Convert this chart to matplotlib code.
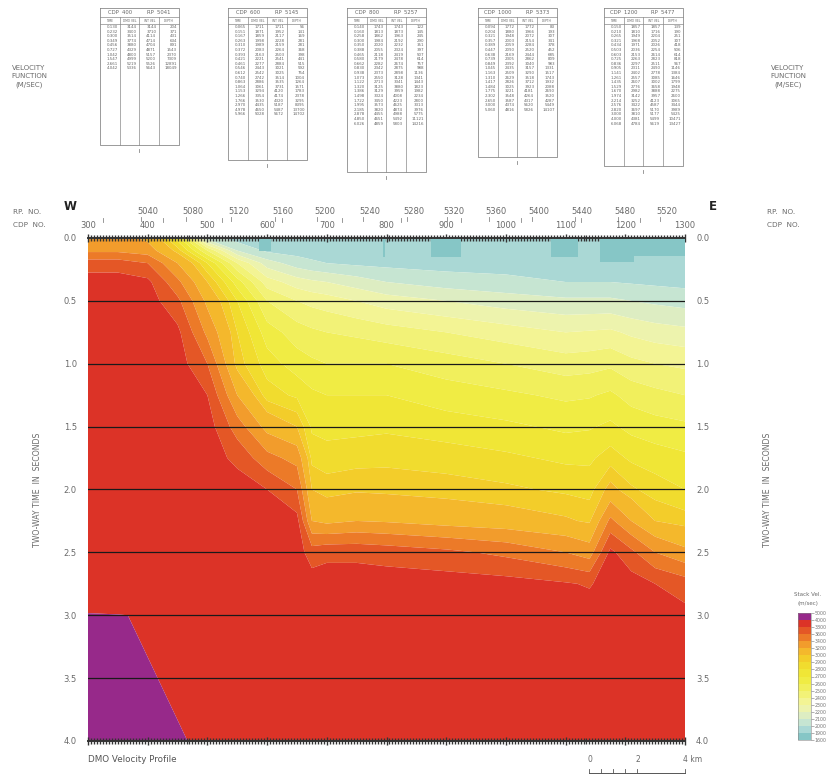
import numpy as np
import matplotlib
matplotlib.use("Agg")
import matplotlib.pyplot as plt
from matplotlib.colors import ListedColormap, BoundaryNorm
from matplotlib.cm import ScalarMappable
from matplotlib.transforms import blended_transform_factory

# ---------------- data ----------------
cdp = [300, 350, 400, 450, 500, 550, 600, 650, 675, 700, 750, 800, 900, 1000, 1100, 1140, 1175,
       1210, 1250, 1300]
times = [0, 0.1, 0.2, 0.35, 0.5, 0.75, 1.0, 1.25, 1.5, 1.75, 2.0, 2.25, 2.5, 2.75, 2.98, 3.0, 3.5, 4.0]

v300 = [3300, 3360, 3700, 3900, 3900, 3900, 3900, 3900, 3900, 3900, 3900, 3900, 3900, 3900, 3900, 4500, 4500, 4500]
v350 = [3300, 3360, 3700, 3900, 3900, 3900, 3900, 3900, 3900, 3900, 3900, 3900, 3900, 3900, 3900, 4050, 4400, 4500]
v400 = [3150, 3300, 3600, 3850, 3900, 3900, 3900, 3900, 3900, 3900, 3900, 3900, 3900, 3900, 3900, 3900, 4050, 4300]
v450 = [2750, 2950, 3200, 3450, 3650, 3850, 3900, 3900, 3900, 3900, 3900, 3900, 3900, 3900, 3900, 3900, 3900, 4050]
v500 = [2050, 2500, 2800, 3000, 3150, 3350, 3600, 3800, 3900, 3900, 3900, 3900, 3900, 3900, 3900, 3900, 3900, 3900]
v550 = [1950, 2100, 2400, 2650, 2800, 2900, 2950, 3200, 3500, 3750, 3900, 3900, 3900, 3900, 3900, 3900, 3900, 3900]
v600 = [1950, 1980, 2150, 2350, 2500, 2650, 2750, 2850, 3130, 3470, 3800, 3900, 3900, 3900, 3900, 3900, 3900, 3900]
v650 = [1950, 1960, 2050, 2250, 2400, 2550, 2650, 2780, 3000, 3330, 3600, 3870, 3900, 3900, 3900, 3900, 3900, 3900]
v675 = [1950, 1950, 2020, 2220, 2370, 2520, 2620, 2720, 2780, 2870, 3000, 3200, 3700, 3900, 3900, 3900, 3900, 3900]
v700 = [1950, 1950, 2000, 2200, 2350, 2500, 2600, 2700, 2760, 2850, 2950, 3150, 3750, 3900, 3900, 3900, 3900, 3900]
v750 = [1950, 1950, 1980, 2150, 2300, 2480, 2600, 2700, 2770, 2860, 2980, 3200, 3750, 3900, 3900, 3900, 3900, 3900]
v800 = [1950, 1950, 1970, 2100, 2250, 2450, 2600, 2700, 2780, 2870, 2970, 3180, 3720, 3900, 3900, 3900, 3900, 3900]
v900 = [1950, 1950, 1960, 2050, 2200, 2400, 2550, 2650, 2750, 2850, 2950, 3120, 3650, 3900, 3900, 3900, 3900, 3900]
v1000 = [1950, 1950, 1955, 2030, 2150, 2350, 2500, 2620, 2720, 2820, 2920, 3080, 3550, 3880, 3900, 3900, 3900, 3900]
v1100 = [1950, 1950, 1950, 2000, 2120, 2300, 2450, 2580, 2680, 2780, 2880, 3020, 3400, 3820, 3900, 3900, 3900, 3900]
v1140 = [1950, 1950, 1950, 2000, 2120, 2310, 2460, 2590, 2690, 2780, 2860, 2980, 3300, 3780, 3900, 3900, 3900, 3900]
v1175 = [1950, 1950, 1950, 2000, 2120, 2320, 2480, 2620, 2720, 2850, 3050, 3450, 3850, 3900, 3900, 3900, 3900, 3900]
v1210 = [1950, 1950, 1950, 1990, 2100, 2280, 2430, 2560, 2670, 2780, 2920, 3200, 3650, 3900, 3900, 3900, 3900, 3900]
v1250 = [1950, 1950, 1950, 1980, 2080, 2250, 2400, 2530, 2640, 2750, 2850, 3000, 3400, 3800, 3900, 3900, 3900, 3900]
v1300 = [1950, 1950, 1950, 1970, 2060, 2230, 2380, 2500, 2620, 2720, 2800, 2950, 3250, 3700, 3850, 3860, 3900, 3900]

# shallow low-velocity pockets (cdp start, cdp end, bottom time)
pocket_start = [587, 794, 875, 1075, 1157, 1215]
pocket_end = [607, 798, 925, 1120, 1215, 1300]
pocket_bottom = [0.10, 0.15, 0.15, 0.15, 0.19, 0.14]

# colour scale
cb_bounds = [1600, 1900, 2000, 2100, 2200, 2300, 2400, 2500, 2600, 2700, 2800, 2900,
             3000, 3200, 3400, 3600, 3800, 4000, 5000]
band_colors = ['#86c6c6', '#aad8d5', '#c6e5d2', '#ddedc2', '#edf3ad', '#f3f494', '#f2f277',
               '#f1ef5c', '#f0ec44', '#f0e636', '#f1dc2e', '#f3cd2a', '#f4b82c', '#f29c2c',
               '#ec7a28', '#e45726', '#dc3327', '#97298a']

# axis annotation
cdp_ticks = [300, 400, 500, 600, 700, 800, 900, 1000, 1100, 1200, 1300]
rp_labels = [5040, 5080, 5120, 5160, 5200, 5240, 5280, 5320, 5360, 5400, 5440, 5480, 5520]
rp_cdp = [401, 476, 552, 626, 696, 772, 846, 913, 983, 1056, 1127, 1200, 1270]
time_ticks = [0.0, 0.5, 1.0, 1.5, 2.0, 2.5, 3.0, 3.5, 4.0]
scale_km = [0, 0.5, 1.0, 1.5, 2, 4]
scale_labels = ["0", "2", "4 km"]

# velocity function tables
tab_cdp = [400, 600, 800, 1000, 1200]
tab_rp = [5041, 5145, 5257, 5373, 5477]
time1 = [0.130, 0.232, 0.300, 0.349, 0.456, 0.727, 1.042, 1.547, 2.661, 4.042]
dmo1 = [3144, 3400, 3514, 3774, 3880, 4329, 4800, 4999, 5219, 5336]
int1 = [3144, 3710, 4114, 4714, 4704, 4871, 5157, 5200, 5526, 5643]
dep1 = [204, 371, 431, 634, 891, 1543, 2370, 7309, 12891, 18049]
time2 = [0.065, 0.151, 0.167, 0.263, 0.310, 0.372, 0.393, 0.421, 0.461, 0.546, 0.612, 0.740,
         0.863, 1.064, 1.153, 1.266, 1.766, 2.970, 4.978, 5.966]
dmo2 = [1711, 1871, 1859, 1998, 1989, 2083, 2163, 2221, 2277, 2443, 2542, 2742, 2886, 3061,
        3294, 3354, 3530, 4435, 4650, 5028]
int2 = [1711, 1952, 2117, 2228, 2159, 2264, 2503, 2541, 2884, 3021, 3025, 3514, 3535, 3731,
        4120, 4174, 4320, 5187, 5487, 5672]
dep2 = [56, 141, 169, 281, 281, 368, 398, 441, 515, 592, 754, 1004, 1264, 1571, 1783, 2378,
        3295, 8395, 13700, 14702]
time3 = [0.140, 0.160, 0.258, 0.300, 0.350, 0.388, 0.465, 0.580, 0.662, 0.830, 0.938, 1.073,
         1.122, 1.320, 1.386, 1.498, 1.722, 1.995, 2.185, 2.878, 4.850, 6.026]
dmo3 = [1743, 1813, 1862, 1984, 2020, 2055, 2118, 2179, 2282, 2342, 2373, 2550, 2713, 3125,
        3129, 3324, 3450, 3573, 3820, 4455, 4651, 4859]
int3 = [1743, 1873, 1963, 2192, 2232, 2324, 2419, 2478, 2674, 2875, 2898, 3128, 3341, 3880,
        3959, 4008, 4223, 4625, 4874, 4988, 5492, 5803]
dep3 = [122, 145, 245, 290, 351, 397, 507, 614, 757, 988, 1136, 1341, 1443, 1823, 1982, 2234,
        2800, 3313, 3976, 5775, 11121, 14216]
time4 = [0.094, 0.204, 0.321, 0.357, 0.389, 0.447, 0.638, 0.739, 0.849, 1.045, 1.163, 1.310,
         1.417, 1.484, 1.775, 2.302, 2.650, 3.000, 5.060]
dmo4 = [1772, 1880, 1948, 2003, 2059, 2090, 2169, 2305, 2392, 2435, 2509, 2629, 2826, 3025,
        3221, 3548, 3587, 4374, 4816]
int4 = [1772, 1966, 2072, 2154, 2284, 2520, 2444, 2862, 3040, 3157, 3290, 3518, 3712, 3923,
        4181, 4264, 4317, 5620, 5826]
dep4 = [83, 193, 307, 341, 378, 452, 685, 809, 983, 1331, 1517, 1743, 1932, 2088, 2690, 3520,
        4287, 5449, 14107]
time5 = [0.150, 0.210, 0.265, 0.321, 0.434, 0.503, 0.603, 0.725, 0.836, 0.905, 1.141, 1.261,
         1.435, 1.529, 1.670, 1.974, 2.214, 2.576, 2.820, 3.000, 4.000, 6.068]
dmo5 = [1857, 1810, 1949, 1968, 1971, 2036, 2153, 2263, 2297, 2311, 2402, 2557, 2607, 2776,
        2982, 3142, 3252, 3422, 3697, 3810, 4381, 4784]
int5 = [1857, 1716, 2204, 2052, 2026, 2254, 2614, 2823, 2511, 2490, 2778, 3085, 3002, 3658,
        3888, 3957, 4123, 4587, 5170, 5177, 5499, 5619]
dep5 = [139, 190, 251, 307, 418, 506, 614, 818, 967, 1146, 1384, 1646, 1799, 1948, 2275, 2600,
        3065, 3444, 3989, 5425, 10471, 13427]

tables = [(time1, dmo1, int1, dep1), (time2, dmo2, int2, dep2), (time3, dmo3, int3, dep3),
          (time4, dmo4, int4, dep4), (time5, dmo5, int5, dep5)]

# ---------------- figure ----------------
W, H = 834, 780
fig = plt.figure(figsize=(W / 100, H / 100), dpi=100)
GRAY = '#6a6a6a'
PL, PR, PT, PB = 88, 685, 238, 741

ov = fig.add_axes([0, 0, 1, 1], zorder=5)
ov.set_xlim(0, W)
ov.set_ylim(H, 0)
ov.axis('off')

ax = fig.add_axes([PL / W, 1 - PB / H, (PR - PL) / W, (PB - PT) / H])
V = np.column_stack([v300, v350, v400, v450, v500, v550, v600, v650, v675, v700, v750, v800,
                     v900, v1000, v1100, v1140, v1175, v1210, v1250, v1300])
levels = [0] + cb_bounds[1:-1] + [9000]
ax.contourf(cdp, times, V, levels=levels, colors=band_colors, antialiased=True)
ax.bar(pocket_start, pocket_bottom, width=np.array(pocket_end) - np.array(pocket_start),
       bottom=0, align='edge', color=band_colors[0], linewidth=0, zorder=2)
ax.set_xlim(300, 1300)
ax.set_ylim(4.0, 0.0)

for t in time_ticks[1:-1]:
    ax.axhline(t, color='#1a1a1a', lw=0.9, zorder=3)

ax.set_yticks(time_ticks)
ax.set_yticklabels([f"{t:.1f}" for t in time_ticks])
ax.tick_params(axis='y', length=0, labelsize=6, labelcolor=GRAY, pad=8,
               labelleft=True, labelright=True)
ax.set_xticks(cdp_ticks)
ax.set_xticks(np.arange(300, 1301, 5), minor=True)
ax.tick_params(axis='x', which='major', top=True, bottom=True, direction='inout',
               length=6, width=1.0, color='#333333', labelbottom=False)
ax.tick_params(axis='x', which='minor', top=True, bottom=True, direction='inout',
               length=4, width=1.0, color='#333333')
for s in ['left', 'right']:
    ax.spines[s].set_visible(False)
for s in ['top', 'bottom']:
    ax.spines[s].set_color('#333333')
    ax.spines[s].set_linewidth(1.4)

trans = blended_transform_factory(ax.transData, ax.transAxes)
def ay(ypix):
    return (PB - ypix) / float(PB - PT)

for c in cdp_ticks:
    ax.text(c, ay(226), str(c), transform=trans, ha='center', va='center',
            fontsize=6, color=GRAY, clip_on=False)
for r, c in zip(rp_labels, rp_cdp):
    ax.text(c, ay(212), str(r), transform=trans, ha='center', va='center',
            fontsize=6, color=GRAY, clip_on=False)
    ax.plot([c - 12, c - 12], [ay(217), ay(221)], transform=trans, color='#888888',
            lw=0.6, clip_on=False)
for c in cdp_ticks[:-1]:
    ax.plot([c + 25, c + 25], [ay(218), ay(222)], transform=trans, color='#888888',
            lw=0.6, clip_on=False)

# scale bar (25 m CDP spacing -> 40 CDP per km)
tpp = 4.0 / (PB - PT)
x0 = 1300 - 40 * scale_km[-1]
ybar = 4.0 + (773 - PB) * tpp
ylab = 4.0 + (760 - PB) * tpp
ax.plot([x0, 1300], [ybar, ybar], color='#555555', lw=0.7, clip_on=False)
for k in scale_km:
    ax.plot([x0 + 40 * k] * 2, [ybar, ybar - 0.03], color='#555555', lw=0.6, clip_on=False)
for lab, k in zip(scale_labels, [0, 2, 4]):
    ax.text(x0 + 40 * k - 3, ylab, lab, ha='left', va='center', fontsize=5.5,
            color=GRAY, clip_on=False)
ax.text(300, ylab, "DMO Velocity Profile", ha='left', va='center', fontsize=6.3,
        color='#555555', clip_on=False)

# colour bar
cax = fig.add_axes([798 / W, 1 - 740 / H, 13 / W, 127 / H])
cmap = ListedColormap(band_colors)
norm = BoundaryNorm(cb_bounds, cmap.N)
cb = fig.colorbar(ScalarMappable(norm=norm, cmap=cmap), cax=cax, ticks=cb_bounds,
                  spacing='uniform')
cb.ax.tick_params(labelsize=3.4, length=2, width=0.4, colors='#777777', pad=0.8)
cb.outline.set_linewidth(0.4)
cb.outline.set_edgecolor('#888888')
ov.text(808, 594, "Stack Vel.", ha='center', va='center', fontsize=4, color=GRAY)
ov.text(808, 603, "(m/sec)", ha='center', va='center', fontsize=4, color=GRAY)

# page labels
ov.text(70, 207, "W", ha='center', va='center', fontsize=8.5, fontweight='bold', color='#222222')
ov.text(713, 207, "E", ha='center', va='center', fontsize=8.5, fontweight='bold', color='#222222')
for xx in (13, 767):
    ov.text(xx, 212, "RP.  NO.", ha='left', va='center', fontsize=5.2, color=GRAY)
    ov.text(xx, 225, "CDP  NO.", ha='left', va='center', fontsize=5.2, color=GRAY)
for xx in (29, 788):
    ov.text(xx, 68, "VELOCITY", ha='center', va='center', fontsize=5, color=GRAY)
    ov.text(xx, 76, "FUNCTION", ha='center', va='center', fontsize=5, color=GRAY)
    ov.text(xx, 85, "(M/SEC)", ha='center', va='center', fontsize=5, color=GRAY)
ov.text(38, 490, "TWO-WAY TIME  IN  SECONDS", rotation=90, ha='center', va='center',
        fontsize=5.6, color=GRAY)
ov.text(768, 490, "TWO-WAY TIME  IN  SECONDS", rotation=90, ha='center', va='center',
        fontsize=5.6, color=GRAY)

# velocity function tables
tab_left = [100, 228, 347, 478, 604]
tab_bottom = [145, 160, 172, 157, 166]
tw, ttop, h1, h2, rowh = 79, 8, 9, 7, 4.6
LC = '#8a8a8a'
TC = '#666666'
for k, (tl, tb) in enumerate(zip(tab_left, tab_bottom)):
    cw = tw / 4
    ov.plot([tl, tl + tw, tl + tw, tl, tl], [ttop, ttop, tb, tb, ttop], color=LC, lw=0.6)
    ov.plot([tl, tl + tw], [ttop + h1] * 2, color=LC, lw=0.5)
    ov.plot([tl, tl + tw], [ttop + h1 + h2] * 2, color=LC, lw=0.5)
    for j in range(1, 4):
        ov.plot([tl + j * cw] * 2, [ttop + h1, tb], color=LC, lw=0.5)
    ov.text(tl + cw, ttop + h1 / 2 + 0.5, f"CDP  {tab_cdp[k]}", ha='center', va='center',
            fontsize=3.8, color=TC)
    ov.text(tl + 3 * cw, ttop + h1 / 2 + 0.5, f"RP  {tab_rp[k]}", ha='center', va='center',
            fontsize=3.8, color=TC)
    for j, hd in enumerate(["TIME", "DMO VEL", "INT VEL", "DEPTH"]):
        ov.text(tl + (j + 0.5) * cw, ttop + h1 + h2 / 2 + 0.3, hd, ha='center', va='center',
                fontsize=2.2, color=TC)
    tt, dd, ii, de = tables[k]
    y0 = ttop + h1 + h2 + 3
    for r in range(len(tt)):
        yy = y0 + r * rowh
        ov.text(tl + cw - 2, yy, f"{tt[r]:.3f}", ha='right', va='center', fontsize=2.9, color=TC)
        ov.text(tl + 2 * cw - 3, yy, f"{dd[r]}", ha='right', va='center', fontsize=2.9, color=TC)
        ov.text(tl + 3 * cw - 3, yy, f"{ii[r]}", ha='right', va='center', fontsize=2.9, color=TC)
        ov.text(tl + 4 * cw - 2, yy, f"{de[r]}", ha='right', va='center', fontsize=2.9, color=TC)
    ov.plot([tl + 2 * cw] * 2, [tb + 4, tb + 7], color=LC, lw=0.6)

fig.savefig("out.png", dpi=100)
